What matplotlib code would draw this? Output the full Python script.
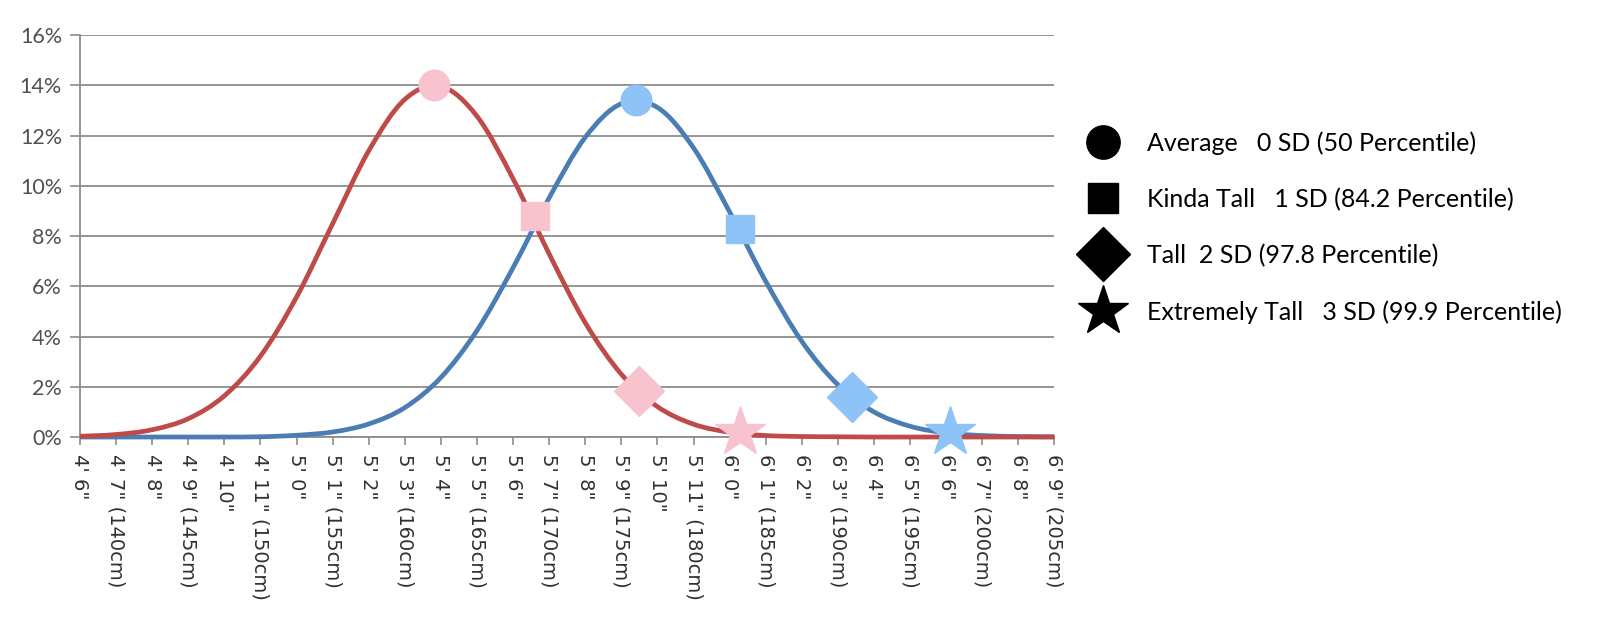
import matplotlib

matplotlib.use("Agg")
import matplotlib.pyplot as plt
from matplotlib.lines import Line2D
from matplotlib.patches import PathPatch
from matplotlib.path import Path

plt.rcParams["font.family"] = ["Lato", "DejaVu Sans"]

# heights in inches, 4'6" .. 6'9"
heights = list(range(54, 82))
height_labels = [
    "4' 6\"", "4' 7\" (140cm)", "4' 8\"", "4' 9\" (145cm)", "4' 10\"",
    "4' 11\" (150cm)", "5' 0\"", "5' 1\" (155cm)", "5' 2\"", "5' 3\" (160cm)",
    "5' 4\"", "5' 5\" (165cm)", "5' 6\"", "5' 7\" (170cm)", "5' 8\"",
    "5' 9\" (175cm)", "5' 10\"", "5' 11\" (180cm)", "6' 0\"", "6' 1\" (185cm)",
    "6' 2\"", "6' 3\" (190cm)", "6' 4\"", "6' 5\" (195cm)", "6' 6\"",
    "6' 7\" (200cm)", "6' 8\"", "6' 9\" (205cm)",
]

# share of population per inch (%)
women_pct = [
    0.03, 0.10, 0.29, 0.73, 1.64, 3.22, 5.57, 8.49, 11.39, 13.44,
    13.96, 12.77, 10.28, 7.29, 4.55, 2.50, 1.21, 0.51, 0.19, 0.06,
    0.02, 0.01, 0.0, 0.0, 0.0, 0.0, 0.0, 0.0,
]
men_pct = [
    0.0, 0.0, 0.0, 0.0, 0.0, 0.01, 0.07, 0.20, 0.52, 1.17,
    2.37, 4.24, 6.74, 9.52, 11.93, 13.27, 13.12, 11.51, 8.96, 6.20,
    3.81, 2.08, 1.00, 0.43, 0.16, 0.06, 0.02, 0.01,
]

# SD markers (0, 1, 2, 3 SD)
women_sd_x = [63.8, 66.6, 69.5, 72.3]
women_sd_y = [14.0, 8.8, 1.85, 0.2]
men_sd_x = [69.4, 72.3, 75.4, 78.1]
men_sd_y = [13.4, 8.3, 1.6, 0.2]

sd_labels = [
    "Average   0 SD (50 Percentile)",
    "Kinda Tall   1 SD (84.2 Percentile)",
    "Tall  2 SD (97.8 Percentile)",
    "Extremely Tall   3 SD (99.9 Percentile)",
]
sd_markers = ["o", "s", "D", "*"]
marker_sizes = [22, 20, 25, 38]
legend_sizes = [24, 22, 27, 38]

RED, BLUE = "#BE4B48", "#4A7DB3"
PINK, LIGHTBLUE = "#F8C3CF", "#8DC3F7"


def smooth_path(xs, ys):
    # catmull-rom through the points, as bezier segments (excel-style smoothing)
    pts = list(zip(xs, ys))
    verts, codes = [pts[0]], [Path.MOVETO]
    n = len(pts)
    for i in range(n - 1):
        p0 = pts[max(i - 1, 0)]
        p1, p2 = pts[i], pts[i + 1]
        p3 = pts[min(i + 2, n - 1)]
        c1 = (p1[0] + (p2[0] - p0[0]) / 6, p1[1] + (p2[1] - p0[1]) / 6)
        c2 = (p2[0] - (p3[0] - p1[0]) / 6, p2[1] - (p3[1] - p1[1]) / 6)
        verts += [c1, c2, p2]
        codes += [Path.CURVE4] * 3
    return Path(verts, codes)


fig = plt.figure(figsize=(16, 6.33), dpi=100)
fig.patch.set_facecolor("white")
ax = fig.add_axes([0.05, 0.3096, 0.609, 0.635])

ax.set_xlim(54, 81)
ax.set_ylim(0, 16)
ax.set_yticks(range(0, 17, 2))
ax.set_yticklabels([f"{v}%" for v in range(0, 17, 2)], fontsize=15.5, color="#505050")
ax.set_xticks(heights)
ax.set_xticklabels(height_labels, rotation=-90, fontsize=14, color="#303030",
                   va="top", ha="center", family=["DejaVu Sans"])
ax.grid(axis="y", color="#8c8c8c", linewidth=1.3)
ax.set_axisbelow(True)
for side in ("top", "right"):
    ax.spines[side].set_visible(False)
for side in ("left", "bottom"):
    ax.spines[side].set_color("#8c8c8c")
    ax.spines[side].set_linewidth(1.3)
ax.tick_params(axis="x", length=6, color="#8c8c8c", width=1.2, pad=6)
ax.tick_params(axis="y", length=7, color="#8c8c8c", width=1.2, pad=6)

ax.add_patch(PathPatch(smooth_path(heights, men_pct), fill=False, edgecolor=BLUE,
                       linewidth=3.4, zorder=3, clip_on=False))
ax.add_patch(PathPatch(smooth_path(heights, women_pct), fill=False, edgecolor=RED,
                       linewidth=3.4, zorder=4, clip_on=False))

for mk, ms, x, y in zip(sd_markers, marker_sizes, men_sd_x, men_sd_y):
    ax.plot(x, y, marker=mk, markersize=ms, color=LIGHTBLUE, linestyle="none",
            zorder=5, clip_on=False)
for mk, ms, x, y in zip(sd_markers, marker_sizes, women_sd_x, women_sd_y):
    ax.plot(x, y, marker=mk, markersize=ms, color=PINK, linestyle="none",
            zorder=6, clip_on=False)

handles = [
    Line2D([], [], marker=mk, markersize=ms, color="black", linestyle="none")
    for mk, ms in zip(sd_markers, legend_sizes)
]
fig.legend(handles, sd_labels, loc="upper left", bbox_to_anchor=(0.6816, 0.793),
           frameon=False, fontsize=18, labelspacing=1.32, handlelength=1.0,
           handletextpad=1.26, borderpad=0, borderaxespad=0)

fig.savefig("out.png", dpi=100, facecolor="white")
